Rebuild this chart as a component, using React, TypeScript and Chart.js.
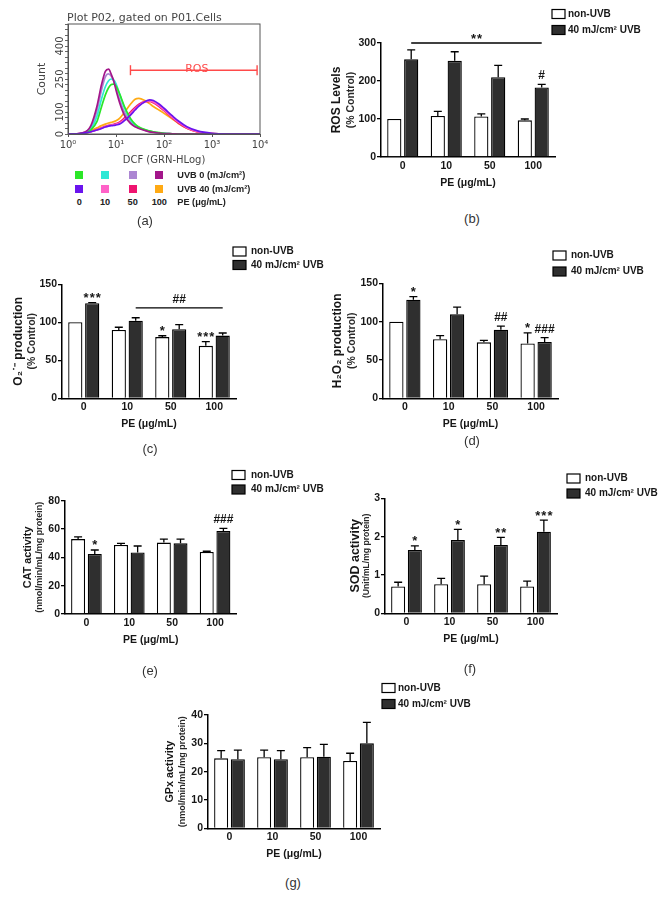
import React, { useEffect, useRef } from "react";
import { Chart, registerables } from "chart.js";
Chart.register(...registerables);

const FONT = '"Liberation Sans", Arial, Helvetica, sans-serif';
const VFONT = '"DejaVu Sans", Verdana, sans-serif';
const INK = "#161616";
const DARK = "#2f2f2f";

// ---------- shared bar-panel data ----------
const CATEGORIES = ["0", "10", "50", "100"];
const X_TITLE = "PE (μg/mL)";
const SERIES_NAMES = ["non-UVB", "40 mJ/cm² UVB"];

// (b) ROS levels
const ROS_NON = [100, 108, 106.5, 96.5];
const ROS_NON_ERR = [0, 12, 7, 3.5];
const ROS_UVB = [257, 253, 210, 183];
const ROS_UVB_ERR = [25, 24, 31, 8];
const ROS_NON_MARKS = ["", "", "", ""];
const ROS_UVB_MARKS = ["", "", "", "#"];
const ROS_BRACKET = { from: 0, to: 3, value: 300, text: "**" };
const ROS_Y_TITLE = ["ROS Levels", "(% Control)"];

// (c) O2 production
const O2_NON = [100, 90, 80.5, 69];
const O2_NON_ERR = [0, 3.5, 1.8, 5.5];
const O2_UVB = [125, 102, 91, 82.5];
const O2_UVB_ERR = [1, 4, 6, 3.4];
const O2_NON_MARKS = ["", "", "*", "***"];
const O2_UVB_MARKS = ["***", "", "", ""];
const O2_BRACKET = { from: 1, to: 3, value: 119, text: "##" };
const O2_Y_TITLE = ["O₂˙⁻ production", "(% Control)"];

// (d) H2O2 production
const H2O2_NON = [100, 77, 73, 71.5];
const H2O2_NON_ERR = [0, 4.7, 2.6, 13.8];
const H2O2_UVB = [128.5, 109.5, 89.5, 73.5];
const H2O2_UVB_ERR = [4.2, 9.4, 4.7, 5.6];
const H2O2_NON_MARKS = ["", "", "", "*"];
const H2O2_UVB_MARKS = ["*", "", "##", "###"];
const H2O2_Y_TITLE = ["H₂O₂ production", "(% Control)"];

// (e) CAT activity
const CAT_NON = [52.9, 48.7, 50.4, 43.8];
const CAT_NON_ERR = [1.6, 1.2, 2.5, 0.5];
const CAT_UVB = [42.4, 43.5, 49.9, 58.6];
const CAT_UVB_ERR = [2.8, 4.5, 3, 1.9];
const CAT_NON_MARKS = ["", "", "", ""];
const CAT_UVB_MARKS = ["*", "", "", "###"];
const CAT_Y_TITLE = ["CAT activity", "(nmol/min/mL/mg protein)"];

// (f) SOD activity
const SOD_NON = [0.7, 0.76, 0.76, 0.7];
const SOD_NON_ERR = [0.11, 0.15, 0.21, 0.14];
const SOD_UVB = [1.65, 1.91, 1.78, 2.13];
const SOD_UVB_ERR = [0.11, 0.28, 0.2, 0.3];
const SOD_NON_MARKS = ["", "", "", ""];
const SOD_UVB_MARKS = ["*", "*", "**", "***"];
const SOD_Y_TITLE = ["SOD activity", "(Unit/mL/mg protein)"];

// (g) GPx activity
const GPX_NON = [24.7, 25.1, 25.1, 23.8];
const GPX_NON_ERR = [2.7, 2.5, 3.4, 2.7];
const GPX_UVB = [24.4, 24.4, 25.3, 30];
const GPX_UVB_ERR = [3.2, 3, 4.3, 7.4];
const GPX_NON_MARKS = ["", "", "", ""];
const GPX_UVB_MARKS = ["", "", "", ""];
const GPX_Y_TITLE = ["GPx activity", "(nmol/min/mL/mg protein)"];

// ---------- (a) flow cytometry histogram data ----------
const DCF = [1, 1.5, 2, 2.5, 3, 4, 5, 6, 7, 8, 9, 10, 12, 15, 20, 25, 30, 40, 50, 60, 80, 100, 150, 200, 300, 500, 1000, 2000, 10000];
const H_UVB0_PE0 = [0, 0, 2, 7, 18, 56, 124, 178, 210, 225, 227, 218, 180, 125, 71, 45, 32, 20, 14, 10, 6, 3, 1, 0, 0, 0, 0, 0, 0];
const H_UVB0_PE10 = [0, 0, 3, 9, 22, 80, 160, 215, 242, 250, 245, 228, 180, 118, 65, 42, 30, 19, 13, 9, 5, 3, 1, 0, 0, 0, 0, 0, 0];
const H_UVB0_PE50 = [0, 0, 4, 12, 30, 105, 200, 260, 273, 262, 240, 210, 155, 98, 55, 36, 27, 17, 11, 8, 4, 2, 1, 0, 0, 0, 0, 0, 0];
const H_UVB0_PE100 = [0, 0, 5, 15, 38, 125, 225, 285, 295, 270, 240, 200, 140, 85, 48, 33, 25, 16, 10, 7, 4, 2, 1, 0, 0, 0, 0, 0, 0];
const H_UVB40_PE0 = [0, 1, 3, 6, 10, 18, 25, 32, 36, 38, 39, 41, 45, 61, 86, 109, 127, 147, 155, 152, 135, 117, 82, 59, 33, 14, 3, 0, 0];
const H_UVB40_PE10 = [0, 1, 3, 6, 10, 18, 26, 33, 37, 40, 42, 44, 50, 66, 92, 114, 130, 146, 150, 146, 128, 110, 76, 54, 29, 11, 2, 0, 0];
const H_UVB40_PE50 = [0, 1, 3, 6, 11, 20, 28, 35, 39, 42, 44, 47, 55, 73, 100, 121, 135, 147, 148, 142, 124, 106, 72, 50, 26, 10, 2, 0, 0];
const H_UVB40_PE100 = [0, 1, 3, 8, 15, 28, 38, 45, 50, 53, 56, 60, 72, 98, 135, 158, 162, 152, 138, 125, 108, 94, 68, 48, 26, 9, 2, 0, 0];
const ROS_GATE_X = [20, 8700];
const ROS_GATE_Y = 290;
const HIST_X_TICKS = [1, 10, 100, 1000, 10000];
const HIST_Y_LABELED = [0, 100, 250, 400];
const PE_LEVELS = ["0", "10", "50", "100"];
const UVB0_COLORS = ["#2be628", "#2ee8d6", "#ac86d2", "#a3168a"];
const UVB40_COLORS = ["#6a14ee", "#ff62c8", "#ef1470", "#ffaa14"];
const SUP = ["⁰", "¹", "²", "³", "⁴"];

type Bracket = { from: number; to: number; value: number; text: string };
type BarCfg = {
  key: string;
  rect: number[];
  area: number[];
  yMax: number;
  yStep: number;
  non: number[];
  nonErr: number[];
  uvb: number[];
  uvbErr: number[];
  nonMarks: string[];
  uvbMarks: string[];
  bracket?: Bracket;
  yTitle: string[];
  yTitleX: number[];
  yTitleSize: number[];
  legend: { x: number; y1: number; y2: number; tx: number };
};

const PANELS: BarCfg[] = [
  {
    key: "b", rect: [330, 0, 332, 200], area: [381, 43, 555, 157], yMax: 300, yStep: 100,
    non: ROS_NON, nonErr: ROS_NON_ERR, uvb: ROS_UVB, uvbErr: ROS_UVB_ERR,
    nonMarks: ROS_NON_MARKS, uvbMarks: ROS_UVB_MARKS, bracket: ROS_BRACKET,
    yTitle: ROS_Y_TITLE, yTitleX: [337, 351], yTitleSize: [12, 10.5],
    legend: { x: 552, y1: 14, y2: 30, tx: 568 },
  },
  {
    key: "c", rect: [0, 235, 330, 200], area: [62, 284.3, 236, 398.3], yMax: 150, yStep: 50,
    non: O2_NON, nonErr: O2_NON_ERR, uvb: O2_UVB, uvbErr: O2_UVB_ERR,
    nonMarks: O2_NON_MARKS, uvbMarks: O2_UVB_MARKS, bracket: O2_BRACKET,
    yTitle: O2_Y_TITLE, yTitleX: [19, 32], yTitleSize: [12, 10.5],
    legend: { x: 233, y1: 251.5, y2: 265, tx: 251 },
  },
  {
    key: "d", rect: [330, 235, 332, 200], area: [383, 283.3, 558, 398.3], yMax: 150, yStep: 50,
    non: H2O2_NON, nonErr: H2O2_NON_ERR, uvb: H2O2_UVB, uvbErr: H2O2_UVB_ERR,
    nonMarks: H2O2_NON_MARKS, uvbMarks: H2O2_UVB_MARKS,
    yTitle: H2O2_Y_TITLE, yTitleX: [338, 352], yTitleSize: [12, 10.5],
    legend: { x: 553, y1: 255.5, y2: 271.5, tx: 571 },
  },
  {
    key: "e", rect: [0, 455, 330, 200], area: [65, 500.7, 236.5, 614], yMax: 80, yStep: 20,
    non: CAT_NON, nonErr: CAT_NON_ERR, uvb: CAT_UVB, uvbErr: CAT_UVB_ERR,
    nonMarks: CAT_NON_MARKS, uvbMarks: CAT_UVB_MARKS,
    yTitle: CAT_Y_TITLE, yTitleX: [28, 40], yTitleSize: [10.8, 9],
    legend: { x: 232, y1: 475, y2: 489.5, tx: 251 },
  },
  {
    key: "f", rect: [330, 455, 332, 200], area: [385, 498.3, 557, 613.3], yMax: 3, yStep: 1,
    non: SOD_NON, nonErr: SOD_NON_ERR, uvb: SOD_UVB, uvbErr: SOD_UVB_ERR,
    nonMarks: SOD_NON_MARKS, uvbMarks: SOD_UVB_MARKS,
    yTitle: SOD_Y_TITLE, yTitleX: [355.5, 367], yTitleSize: [12.5, 8.6],
    legend: { x: 567, y1: 478.5, y2: 493.5, tx: 585 },
  },
  {
    key: "g", rect: [150, 670, 350, 200], area: [208, 715, 380, 828.3], yMax: 40, yStep: 10,
    non: GPX_NON, nonErr: GPX_NON_ERR, uvb: GPX_UVB, uvbErr: GPX_UVB_ERR,
    nonMarks: GPX_NON_MARKS, uvbMarks: GPX_UVB_MARKS,
    yTitle: GPX_Y_TITLE, yTitleX: [170, 182.5], yTitleSize: [10.8, 9],
    legend: { x: 382, y1: 688, y2: 704, tx: 398 },
  },
];

function drawMark(ctx: CanvasRenderingContext2D, text: string, x: number, ref: number) {
  ctx.save();
  ctx.fillStyle = INK;
  ctx.textAlign = "center";
  ctx.textBaseline = "alphabetic";
  if (text[0] === "*") {
    ctx.font = `bold 13px ${FONT}`;
    (ctx as any).letterSpacing = "1px";
    ctx.fillText(text, x + 0.5, ref - 0.5);
  } else {
    ctx.font = `bold 12px ${FONT}`;
    ctx.fillText(text, x, ref - 5);
  }
  ctx.restore();
}

function BarPanel({ cfg }: { cfg: BarCfg }) {
  const ref = useRef<HTMLCanvasElement>(null);
  const [L, T, W, H] = cfg.rect;
  useEffect(() => {
    const [CL, CT, CR, CB] = cfg.area;
    const YW = 40;
    const XH = 32;
    const decor = {
      id: "decor" + cfg.key,
      afterDatasetsDraw(chart: any) {
        const ctx: CanvasRenderingContext2D = chart.ctx;
        const ys = chart.scales.y;
        ctx.save();
        const sets = [
          { v: cfg.non, e: cfg.nonErr, m: cfg.nonMarks },
          { v: cfg.uvb, e: cfg.uvbErr, m: cfg.uvbMarks },
        ];
        sets.forEach((s, d) => {
          const meta = chart.getDatasetMeta(d);
          meta.data.forEach((el: any, j: number) => {
            const x = el.x;
            const top = el.y;
            const yErr = ys.getPixelForValue(s.v[j] + s.e[j]);
            if (s.e[j] > 0) {
              ctx.strokeStyle = "#000";
              ctx.lineWidth = 1.3;
              ctx.beginPath();
              ctx.moveTo(x, top);
              ctx.lineTo(x, yErr);
              ctx.moveTo(x - 4, yErr);
              ctx.lineTo(x + 4, yErr);
              ctx.stroke();
            }
            if (s.m[j]) drawMark(ctx, s.m[j], x, yErr);
          });
        });
        if (cfg.bracket) {
          const b = cfg.bracket;
          const meta = chart.getDatasetMeta(1);
          const x1 = meta.data[b.from].x;
          const x2 = meta.data[b.to].x;
          const y = ys.getPixelForValue(b.value);
          ctx.strokeStyle = "#000";
          ctx.lineWidth = 1.3;
          ctx.beginPath();
          ctx.moveTo(x1, y);
          ctx.lineTo(x2, y);
          ctx.stroke();
          drawMark(ctx, b.text, (x1 + x2) / 2, y);
        }
        // legend
        const lg = cfg.legend;
        const bx = lg.x - L;
        ctx.lineWidth = 1.2;
        ctx.strokeStyle = "#000";
        ctx.fillStyle = "#fff";
        ctx.fillRect(bx, lg.y1 - T - 4.5, 13, 9);
        ctx.strokeRect(bx, lg.y1 - T - 4.5, 13, 9);
        ctx.fillStyle = DARK;
        ctx.fillRect(bx, lg.y2 - T - 4.5, 13, 9);
        ctx.strokeRect(bx, lg.y2 - T - 4.5, 13, 9);
        ctx.fillStyle = INK;
        ctx.font = `bold 10px ${FONT}`;
        ctx.textAlign = "left";
        ctx.textBaseline = "middle";
        ctx.fillText(SERIES_NAMES[0], lg.tx - L, lg.y1 - T);
        ctx.fillText(SERIES_NAMES[1], lg.tx - L, lg.y2 - T);
        // y titles
        const cy = (chart.chartArea.top + chart.chartArea.bottom) / 2;
        cfg.yTitle.forEach((t, i) => {
          ctx.save();
          ctx.translate(cfg.yTitleX[i] - L, cy);
          ctx.rotate(-Math.PI / 2);
          ctx.font = `bold ${cfg.yTitleSize[i]}px ${FONT}`;
          ctx.textAlign = "center";
          ctx.textBaseline = "middle";
          ctx.fillStyle = i === 0 ? INK : "#2a2a2a";
          ctx.fillText(t, 0, 0);
          ctx.restore();
        });
        ctx.restore();
      },
    };
    const chart = new Chart(ref.current as HTMLCanvasElement, {
      type: "bar",
      data: {
        labels: CATEGORIES,
        datasets: [
          {
            label: SERIES_NAMES[0], data: cfg.non, backgroundColor: "#ffffff", borderColor: "#000",
            borderWidth: 1.3, categoryPercentage: 0.777, barPercentage: 0.84,
          },
          {
            label: SERIES_NAMES[1], data: cfg.uvb, backgroundColor: DARK, borderColor: "#000",
            borderWidth: 1.3, categoryPercentage: 0.777, barPercentage: 0.84,
          },
        ],
      },
      options: {
        responsive: false,
        animation: false,
        events: [],
        layout: { padding: { left: CL - L - YW, top: CT - T, right: L + W - CR, bottom: T + H - CB - XH } },
        plugins: { legend: { display: false }, tooltip: { enabled: false }, title: { display: false } },
        scales: {
          x: {
            type: "category",
            offset: true,
            grid: { display: false, drawTicks: false },
            border: { display: true, color: "#000", width: 1.5 },
            ticks: { color: INK, autoSkip: false, maxRotation: 0, padding: 3, font: { family: FONT, size: 10.5, weight: "bold" } },
            title: { display: true, text: X_TITLE, color: INK, padding: 0, font: { family: FONT, size: 10.5, weight: "bold" } },
            afterFit: (s: any) => { s.height = XH; s.paddingLeft = 0; s.paddingRight = 0; },
          },
          y: {
            min: 0,
            max: cfg.yMax,
            grid: { display: true, drawOnChartArea: false, drawTicks: true, tickLength: 4, color: "#000", lineWidth: 1.3 },
            border: { display: true, color: "#000", width: 1.5 },
            ticks: { stepSize: cfg.yStep, color: INK, padding: 1, font: { family: FONT, size: 10.5, weight: "bold" } },
            afterFit: (s: any) => { s.width = YW; s.paddingTop = 0; s.paddingBottom = 0; },
          },
        },
      } as any,
      plugins: [decor],
    });
    return () => chart.destroy();
  }, [cfg]);
  return <canvas ref={ref} width={W} height={H} style={{ position: "absolute", left: L, top: T, width: W, height: H }} />;
}

function HistPanel() {
  const ref = useRef<HTMLCanvasElement>(null);
  const L = 0, T = 0, W = 290, H = 170;
  useEffect(() => {
    const pts = (arr: number[]) => DCF.map((x, i) => ({ x, y: arr[i] }));
    const curve = (label: string, arr: number[], color: string) => ({
      label, data: pts(arr), borderColor: color, backgroundColor: color, borderWidth: 1.7,
      pointRadius: 0, cubicInterpolationMode: "monotone", fill: false,
    });
    const decor = {
      id: "histDecor",
      afterDatasetsDraw(chart: any) {
        const ctx: CanvasRenderingContext2D = chart.ctx;
        const a = chart.chartArea;
        ctx.save();
        ctx.strokeStyle = "#555";
        ctx.lineWidth = 1;
        ctx.strokeRect(a.left, a.top, a.right - a.left, a.bottom - a.top);
        ctx.fillStyle = "#444";
        ctx.font = `11px ${VFONT}`;
        ctx.textAlign = "left";
        ctx.textBaseline = "middle";
        ctx.fillText("Plot P02, gated on P01.Cells", 67 - L, 18 - T);
        const xs = chart.scales.x;
        const ys = chart.scales.y;
        const mx = (xs.getPixelForValue(ROS_GATE_X[0]) + xs.getPixelForValue(ROS_GATE_X[1])) / 2;
        ctx.fillStyle = "#ff4a4a";
        ctx.textAlign = "center";
        ctx.fillText("ROS", mx + 3, ys.getPixelForValue(ROS_GATE_Y) - 1);
        ctx.restore();
      },
    };
    const chart = new Chart(ref.current as HTMLCanvasElement, {
      type: "line",
      data: {
        datasets: [
          {
            label: "ROS", data: ROS_GATE_X.map((x) => ({ x, y: ROS_GATE_Y })), borderColor: "#ff4a4a",
            borderWidth: 1.4, pointStyle: "line", rotation: 90, pointRadius: 5, pointBorderColor: "#ff4a4a",
            pointBorderWidth: 1.4, fill: false,
          },
          curve("UVB 40, PE 0", H_UVB40_PE0, UVB40_COLORS[0]),
          curve("UVB 0, PE 100", H_UVB0_PE100, UVB0_COLORS[3]),
          curve("UVB 0, PE 0", H_UVB0_PE0, UVB0_COLORS[0]),
          curve("UVB 0, PE 10", H_UVB0_PE10, UVB0_COLORS[1]),
          curve("UVB 0, PE 50", H_UVB0_PE50, UVB0_COLORS[2]),
          curve("UVB 40, PE 10", H_UVB40_PE10, UVB40_COLORS[1]),
          curve("UVB 40, PE 50", H_UVB40_PE50, UVB40_COLORS[2]),
          curve("UVB 40, PE 100", H_UVB40_PE100, UVB40_COLORS[3]),
        ],
      },
      options: {
        responsive: false,
        animation: false,
        events: [],
        layout: { padding: { left: 28, top: 24, right: 30, bottom: 4 } },
        plugins: { legend: { display: false }, tooltip: { enabled: false } },
        scales: {
          x: {
            type: "logarithmic",
            min: 1,
            max: 10000,
            afterBuildTicks: (s: any) => { s.ticks = HIST_X_TICKS.map((v) => ({ value: v })); },
            afterFit: (s: any) => { s.height = 32; s.paddingLeft = 0; s.paddingRight = 0; },
            ticks: {
              autoSkip: false, maxRotation: 0, color: "#444", padding: 2,
              font: { family: VFONT, size: 10 },
              callback: (v: any) => "10" + SUP[Math.round(Math.log10(Number(v)))],
            },
            grid: { display: true, drawOnChartArea: false, tickLength: 3, color: "#555" },
            border: { display: true, color: "#555", width: 1 },
            title: { display: true, text: "DCF (GRN-HLog)", color: "#444", padding: 0, font: { family: VFONT, size: 10 } },
          },
          y: {
            type: "linear",
            min: 0,
            max: 500,
            afterFit: (s: any) => { s.width = 40; s.paddingTop = 0; s.paddingBottom = 0; },
            ticks: {
              stepSize: 25, autoSkip: false, minRotation: 90, maxRotation: 90, crossAlign: "center", padding: -4.5,
              color: "#444", font: { family: VFONT, size: 10 },
              callback: (v: any) => (HIST_Y_LABELED.includes(Number(v)) ? String(v) : ""),
            },
            grid: { display: true, drawOnChartArea: false, tickLength: 3, color: "#666" },
            border: { display: true, color: "#555", width: 1 },
            title: { display: true, text: "Count", color: "#444", padding: { top: 7.4, bottom: 0 }, font: { family: VFONT, size: 11 } },
          },
        },
      } as any,
      plugins: [decor],
    });
    return () => chart.destroy();
  }, []);
  return <canvas ref={ref} width={W} height={H} style={{ position: "absolute", left: L, top: T, width: W, height: H }} />;
}

const LEG_COL_X = [79.3, 105, 132.7, 159.3];

function HistLegend() {
  const sq = (x: number, y: number, c: string, k: string) => (
    <div key={k} style={{ position: "absolute", left: x - 4, top: y - 4, width: 8, height: 8, background: c }} />
  );
  const txt = (x: number, y: number, s: string, align: "left" | "center", k: string) => (
    <div
      key={k}
      style={{
        position: "absolute", left: x, top: y, transform: align === "center" ? "translate(-50%,-50%)" : "translate(0,-50%)",
        font: `bold 9.2px ${FONT}`, color: "#222", whiteSpace: "nowrap", lineHeight: "11px",
      }}
    >
      {s}
    </div>
  );
  return (
    <>
      {UVB0_COLORS.map((c, i) => sq(LEG_COL_X[i], 175.3, c, "u0" + i))}
      {UVB40_COLORS.map((c, i) => sq(LEG_COL_X[i], 189.3, c, "u40" + i))}
      {PE_LEVELS.map((s, i) => txt(LEG_COL_X[i], 202.3, s, "center", "pe" + i))}
      {txt(177.3, 175.3, "UVB 0 (mJ/cm²)", "left", "t0")}
      {txt(177.3, 189.3, "UVB 40 (mJ/cm²)", "left", "t40")}
      {txt(177.3, 202.3, "PE (μg/mL)", "left", "tpe")}
    </>
  );
}

const PANEL_LABELS: [string, number, number][] = [
  ["(a)", 145, 220],
  ["(b)", 472, 218],
  ["(c)", 150, 448],
  ["(d)", 472, 440],
  ["(e)", 150, 670],
  ["(f)", 470, 668],
  ["(g)", 293, 882],
];

export default function App() {
  return (
    <div style={{ position: "absolute", left: 0, top: 0, width: 662, height: 901, background: "#fff", overflow: "hidden" }}>
      <HistPanel />
      <HistLegend />
      {PANELS.map((p) => (
        <BarPanel key={p.key} cfg={p} />
      ))}
      {PANEL_LABELS.map(([s, x, y]) => (
        <div
          key={s}
          style={{
            position: "absolute", left: x, top: y, transform: "translate(-50%,-50%)",
            font: `13px ${FONT}`, color: "#333", whiteSpace: "nowrap", lineHeight: "15px",
          }}
        >
          {s}
        </div>
      ))}
    </div>
  );
}
